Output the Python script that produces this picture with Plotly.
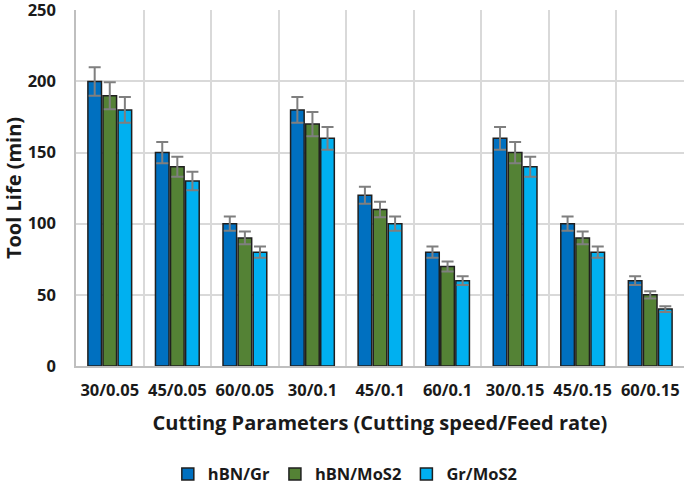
import plotly.graph_objects as go

categories = ["30/0.05", "45/0.05", "60/0.05", "30/0.1", "45/0.1", "60/0.1", "30/0.15", "45/0.15", "60/0.15"]
hbn_gr = [200, 150, 100, 180, 120, 80, 160, 100, 60]
hbn_mos2 = [190, 140, 90, 170, 110, 70, 150, 90, 50]
gr_mos2 = [180, 130, 80, 160, 100, 60, 140, 80, 40]
series_names = ["hBN/Gr", "hBN/MoS2", "Gr/MoS2"]
colors = ["#0070C0", "#548235", "#00B0F0"]
err_frac = 0.05

fig = go.Figure()
for name, vals, col in zip(series_names, [hbn_gr, hbn_mos2, gr_mos2], colors):
    fig.add_trace(go.Bar(
        x=categories, y=vals, name=name,
        marker=dict(color=col, line=dict(color="#1f1f1f", width=1.5)),
        error_y=dict(type="percent", value=err_frac * 100, color="#7f7f7f", thickness=2, width=6),
    ))

font = "Open Sans"
fig.update_layout(
    width=685, height=488,
    margin=dict(l=76, r=1, t=10, b=122, autoexpand=False),
    paper_bgcolor="white", plot_bgcolor="white",
    barmode="group", bargap=0.33, bargroupgap=0.1,
    font=dict(family=font, color="#1a1a1a"),
    showlegend=True,
    legend=dict(orientation="h", xref="container", x=0.245, xanchor="left",
                yref="container", y=0.028, yanchor="middle",
                font=dict(size=16.5, family=font, weight="bold"), itemwidth=30),
    xaxis=dict(
        title=dict(text="Cutting Parameters (Cutting speed/Feed rate)", font=dict(size=20, weight="bold"), standoff=16),
        tickfont=dict(size=16.5, weight="bold"), automargin=False, ticklabelstandoff=8,
        tickson="boundaries", ticks="", showgrid=True, gridcolor="#d9d9d9", gridwidth=1.5,
        showline=True, linecolor="#bfbfbf", linewidth=1.5,
    ),
    yaxis=dict(
        title=dict(text="Tool Life (min)", font=dict(size=20, weight="bold"), standoff=8),
        tickfont=dict(size=16.5, weight="bold"), automargin=False, ticklabelstandoff=15,
        ticklabeloverflow="allow",
        range=[0, 250.2], tickvals=[0, 50, 100, 150, 200, 250], showgrid=True, gridcolor="#d9d9d9", gridwidth=1.5,
        showline=True, linecolor="#bfbfbf", linewidth=1.5, ticks="", zeroline=False,
    ),
)

fig.write_html("out.html", config={"displayModeBar": False},
               post_script="document.body.style.margin='0px';")
